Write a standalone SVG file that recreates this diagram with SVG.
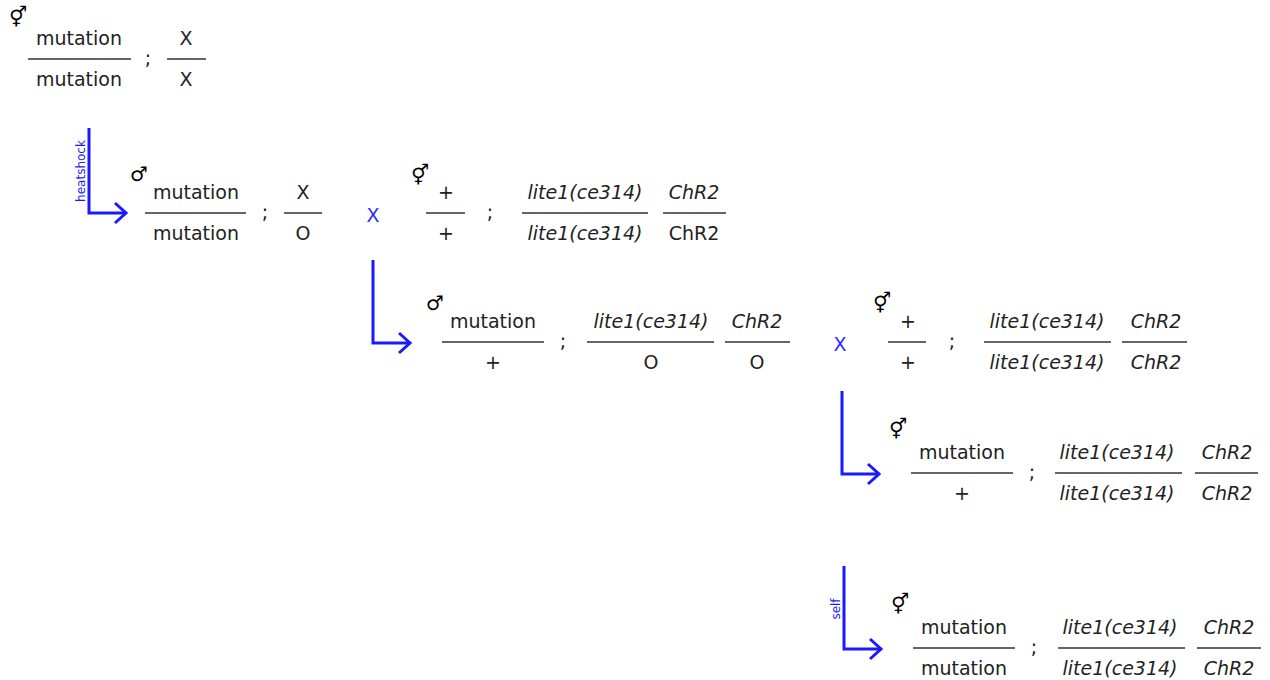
<svg xmlns="http://www.w3.org/2000/svg" width="1270" height="680" viewBox="0 0 1270 680">
  <defs>
    <marker id="chev" markerUnits="userSpaceOnUse" viewBox="0 0 16 24" refX="13" refY="12" markerWidth="16" markerHeight="24" orient="auto">
      <path d="M2,2 L13,12 L2,22" fill="none" stroke="#1a1aff" stroke-width="3"/>
    </marker>
  </defs>
  <style>
    text { font-family: "DejaVu Sans", Verdana, sans-serif; font-size: 19px; fill: #222; text-anchor: middle; }
    .it { font-style: italic; }
    .sym { font-size: 20px; font-weight: bold; fill: #000; }
    .cross { fill: #2a2aff; font-size: 19px; }
    .lbl { fill: #1a1aff; font-size: 12px; }
    .bar { stroke: #333; stroke-width: 1.6; }
    .arrow { fill: none; stroke: #1a1aff; stroke-width: 3; marker-end: url(#chev); }
  </style>
  <rect width="1270" height="680" fill="#fff"/>

  <!-- connectors -->
  <g id="connectors">
    <path class="arrow" d="M89,128 V213 H126"/>
    <text class="lbl" transform="translate(85,171) rotate(-90)">heatshock</text>
    <path class="arrow" d="M373,260 V343 H410"/>
    <path class="arrow" d="M842,391 V474 H879"/>
    <path class="arrow" d="M844,566 V649 H881"/>
    <text class="lbl" transform="translate(840,609) rotate(-90)">self</text>
  </g>

  <!-- parent hermaphrodite: mutation/mutation ; X/X -->
  <g id="p0">
    <text class="sym" x="18" y="24">⚥</text>
    <text x="79" y="45">mutation</text>
    <line class="bar" x1="28" y1="59" x2="131" y2="59"/>
    <text x="79" y="86">mutation</text>
    <text x="148" y="65">;</text>
    <text x="186" y="45">X</text>
    <line class="bar" x1="167" y1="59" x2="206" y2="59"/>
    <text x="186" y="86">X</text>
  </g>

  <!-- male: mutation/mutation ; X/O -->
  <g id="male1">
    <text class="sym" x="139" y="181">♂</text>
    <text x="196" y="199">mutation</text>
    <line class="bar" x1="145" y1="213" x2="246" y2="213"/>
    <text x="196" y="240">mutation</text>
    <text x="265" y="219">;</text>
    <text x="303" y="199">X</text>
    <line class="bar" x1="284" y1="213" x2="322" y2="213"/>
    <text x="303" y="240">O</text>
  </g>

  <text id="cross1" class="cross" x="373" y="222">X</text>

  <!-- hermaphrodite: +/+ ; lite1(ce314)/lite1(ce314) ChR2/ChR2 -->
  <g id="herm1">
    <text class="sym" x="420" y="182">⚥</text>
    <text x="446" y="199">+</text>
    <line class="bar" x1="426" y1="213" x2="465" y2="213"/>
    <text x="446" y="240">+</text>
    <text x="490" y="219">;</text>
    <text class="it" x="585" y="199">lite1(ce314)</text>
    <line class="bar" x1="522" y1="213" x2="648" y2="213"/>
    <text class="it" x="585" y="240">lite1(ce314)</text>
    <text class="it" x="694" y="199">ChR2</text>
    <line class="bar" x1="663" y1="213" x2="726" y2="213"/>
    <text x="694" y="240">ChR2</text>
  </g>

  <!-- male: mutation/+ ; lite1(ce314)/O ChR2/O -->
  <g id="male2">
    <text class="sym" x="435" y="310">♂</text>
    <text x="493" y="328">mutation</text>
    <line class="bar" x1="442" y1="342" x2="544" y2="342"/>
    <text x="493" y="369">+</text>
    <text x="563" y="348">;</text>
    <text class="it" x="651" y="328">lite1(ce314)</text>
    <line class="bar" x1="587" y1="342" x2="714" y2="342"/>
    <text x="651" y="369">O</text>
    <text class="it" x="757" y="328">ChR2</text>
    <line class="bar" x1="725" y1="342" x2="790" y2="342"/>
    <text x="757" y="369">O</text>
  </g>

  <text id="cross2" class="cross" x="840" y="351">X</text>

  <!-- hermaphrodite: +/+ ; lite1(ce314)/lite1(ce314) ChR2/ChR2 -->
  <g id="herm2">
    <text class="sym" x="882" y="310">⚥</text>
    <text x="908" y="328">+</text>
    <line class="bar" x1="888" y1="342" x2="926" y2="342"/>
    <text x="908" y="369">+</text>
    <text x="952" y="348">;</text>
    <text class="it" x="1047" y="328">lite1(ce314)</text>
    <line class="bar" x1="984" y1="342" x2="1111" y2="342"/>
    <text class="it" x="1047" y="369">lite1(ce314)</text>
    <text class="it" x="1156" y="328">ChR2</text>
    <line class="bar" x1="1122" y1="342" x2="1187" y2="342"/>
    <text class="it" x="1156" y="369">ChR2</text>
  </g>

  <!-- hermaphrodite: mutation/+ ; lite1(ce314)/lite1(ce314) ChR2/ChR2 -->
  <g id="herm3">
    <text class="sym" x="898" y="436">⚥</text>
    <text x="962" y="459">mutation</text>
    <line class="bar" x1="911" y1="473" x2="1013" y2="473"/>
    <text x="962" y="500">+</text>
    <text x="1032" y="479">;</text>
    <text class="it" x="1117" y="459">lite1(ce314)</text>
    <line class="bar" x1="1055" y1="473" x2="1182" y2="473"/>
    <text class="it" x="1117" y="500">lite1(ce314)</text>
    <text class="it" x="1227" y="459">ChR2</text>
    <line class="bar" x1="1195" y1="473" x2="1258" y2="473"/>
    <text class="it" x="1227" y="500">ChR2</text>
  </g>

  <!-- hermaphrodite: mutation/mutation ; lite1(ce314)/lite1(ce314) ChR2/ChR2 -->
  <g id="herm4">
    <text class="sym" x="900" y="611">⚥</text>
    <text x="964" y="634">mutation</text>
    <line class="bar" x1="913" y1="648" x2="1015" y2="648"/>
    <text x="964" y="675">mutation</text>
    <text x="1034" y="654">;</text>
    <text class="it" x="1120" y="634">lite1(ce314)</text>
    <line class="bar" x1="1058" y1="648" x2="1185" y2="648"/>
    <text class="it" x="1120" y="675">lite1(ce314)</text>
    <text class="it" x="1229" y="634">ChR2</text>
    <line class="bar" x1="1197" y1="648" x2="1261" y2="648"/>
    <text class="it" x="1229" y="675">ChR2</text>
  </g>
</svg>
